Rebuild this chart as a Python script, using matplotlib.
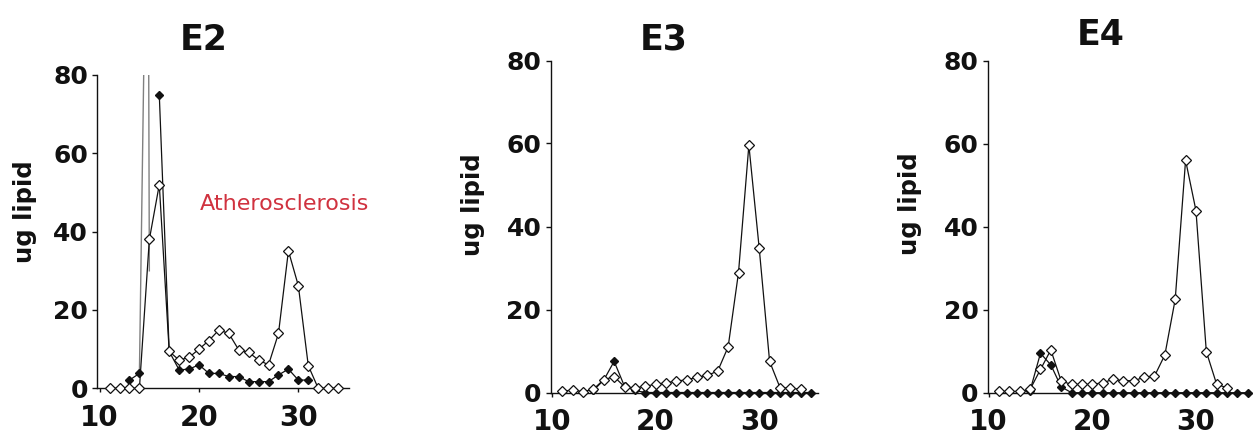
import matplotlib
matplotlib.use("Agg")
import matplotlib.pyplot as plt
import numpy as np

# --- data (fraction number vs ug lipid) ------------------------------------
E2_OPEN_X = list(range(11, 35))
E2_OPEN_Y = [0, 0, 0, 0, 38, 52, 9.4, 7.2, 7.9, 10, 12.2, 14.9, 14, 9.8,
             9.2, 7.2, 6, 14, 35.1, 26.2, 5.8, 0, 0, 0]
# fraction 15 is off-scale for this trace, so it is left as a gap
E2_FILLED_X = [13, 14, 15, 16, 17, 18, 19, 20, 21, 22, 23, 24, 25, 26, 27,
               28, 29, 30, 31]
E2_FILLED_Y = [2.1, 3.8, np.nan, 75, 9.4, 4.7, 4.9, 6, 3.8, 3.8, 3, 3, 1.7,
               1.7, 1.7, 3.4, 4.9, 2.1, 2.1]
# off-scale spike (grey trace, clipped at the top of the axis)
E2_SPIKE_X = [14, 14.6, 14.9, 15]
E2_SPIKE_Y = [3.8, 110, 110, 30]

E3_OPEN_X = list(range(11, 35))
E3_OPEN_Y = [0.3, 0.6, 0.2, 0.8, 3.1, 3.8, 1.4, 1.1, 1.5, 2, 2.3, 2.8, 3,
             3.7, 4.1, 5.2, 11, 28.9, 59.6, 34.7, 7.5, 1.2, 1, 0.8]
E3_FILLED_X = list(range(14, 36))
E3_FILLED_Y = [0.5, 3, 7.5, 1.5, 0.5] + [0] * 17

E4_OPEN_X = list(range(11, 34))
E4_OPEN_Y = [0.3, 0.3, 0.3, 0.8, 5.6, 10.3, 2.8, 2, 2, 2, 2.4, 3.2, 2.9, 2.9,
             3.7, 4, 9.1, 22.5, 56, 43.9, 9.9, 2, 1.2]
E4_FILLED_X = list(range(14, 36))
E4_FILLED_Y = [0.5, 9.5, 6.7, 1.4] + [0] * 18

TITLES = ["E2", "E3", "E4"]
YLABEL = "ug lipid"
NOTE = "Atherosclerosis"
YTICKS = [0, 20, 40, 60, 80]
XTICKS = [10, 20, 30]

W, H = 1253, 438
INK = "#111111"
ACCENT = "#d0323f"


def _px_rect(left, right, bottom, top):
    return [left / W, (H - bottom) / H, (right - left) / W, (bottom - top) / H]


def _style(ax, xlim, label_x, label_y):
    ax.set_xlim(*xlim)
    ax.set_ylim(0, 80)
    for side in ("top", "right"):
        ax.spines[side].set_visible(False)
    for side in ("left", "bottom"):
        ax.spines[side].set_color(INK)
        ax.spines[side].set_linewidth(1.0)
    ax.set_yticks(YTICKS)
    ax.set_xticks(XTICKS)
    ax.tick_params(axis="y", direction="out", length=3.6, width=1.0,
                   pad=3, labelsize=18, colors=INK)
    ax.tick_params(axis="x", direction="out", length=3.0, width=1.0,
                   pad=8, labelsize=20, colors=INK)
    for lab in ax.get_xticklabels() + ax.get_yticklabels():
        lab.set_fontweight("bold")
    ax.set_ylabel(YLABEL, fontsize=17.5, fontweight="bold", color=INK)
    ax.yaxis.set_label_coords(label_x, label_y)


def _series(ax, ox, oy, fx, fy):
    ax.plot(fx, fy, color=INK, lw=0.9, marker="D", ms=4.3, mfc=INK,
            mec=INK, clip_on=False, zorder=3)
    ax.plot(ox, oy, color=INK, lw=0.9, marker="D", ms=4.8, mfc="white",
            mec=INK, mew=0.9, clip_on=False, zorder=4)


def _title(ax, text, x, y):
    ax.text(x, y, text, transform=ax.transAxes, ha="center", va="baseline",
            fontsize=25, fontweight="bold", color=INK)


fig = plt.figure(figsize=(W / 100, H / 100), dpi=100)

ax2 = fig.add_axes(_px_rect(97.3, 349, 388.3, 75))
ax2.plot(E2_SPIKE_X, E2_SPIKE_Y, color="#808080", lw=1.0, zorder=2)
_series(ax2, E2_OPEN_X, E2_OPEN_Y, E2_FILLED_X, E2_FILLED_Y)
_style(ax2, (9.76, 35.1), -0.240, 0.563)
ax2.text(20.1, 45.5, NOTE, color=ACCENT, fontsize=16, ha="left",
         va="baseline")
_title(ax2, TITLES[0], 0.424, 1.08)

ax3 = fig.add_axes(_px_rect(550.5, 818, 392.5, 60.5))
_series(ax3, E3_OPEN_X, E3_OPEN_Y, E3_FILLED_X, E3_FILLED_Y)
_style(ax3, (9.86, 35.67), -0.245, 0.565)
_title(ax3, TITLES[1], 0.424, 1.032)

ax4 = fig.add_axes(_px_rect(987.7, 1254, 392.7, 60.7))
_series(ax4, E4_OPEN_X, E4_OPEN_Y, E4_FILLED_X, E4_FILLED_Y)
_style(ax4, (9.91, 35.6), -0.247, 0.568)
_title(ax4, TITLES[2], 0.425, 1.047)

fig.savefig("out.png", dpi=100)
